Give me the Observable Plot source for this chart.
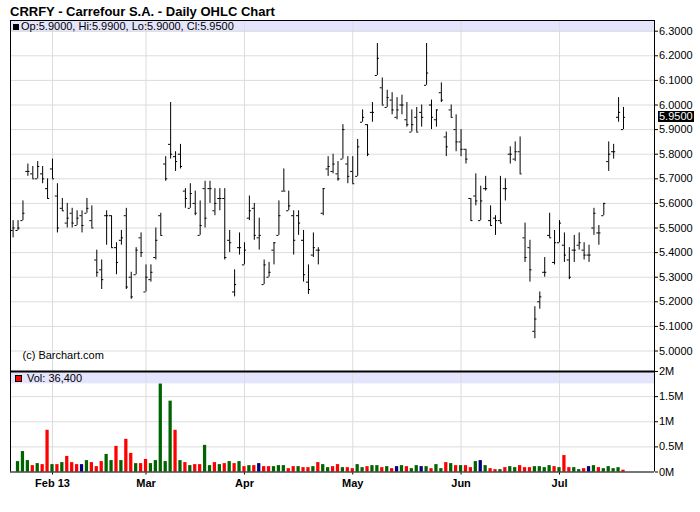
<!DOCTYPE html>
<html>
<head>
<meta charset="utf-8">
<script src="https://cdn.jsdelivr.net/npm/d3@7"></script>
<script src="https://cdn.jsdelivr.net/npm/@observablehq/plot@0.6"></script>
<style>
  body { margin: 0; background: #fff; }
  #wrap { position: relative; width: 700px; height: 512px; overflow: hidden; background: #fff;
          font-family: "Liberation Sans", Arial, Helvetica, sans-serif; }
  #wrap svg { position: absolute; left: 0; }
  .title { position: absolute; left: 10px; top: 5px; font-weight: bold; font-size: 13px; line-height: 13px; color: #000; white-space: nowrap; }
  .hdr { position: absolute; font-size: 11px; line-height: 11px; color: #000; white-space: nowrap; z-index: 5; }
  .sq { display: inline-block; box-sizing: border-box; vertical-align: baseline; margin-right: 2px; }
  .last { position: absolute; left: 658px; background: #000; color: #fff; font-size: 11px; line-height: 11px; padding: 0 1px; z-index: 6; }
  #vol g[aria-label^="x-axis"] text { font-weight: bold; }
</style>
</head>
<body>
<div id="wrap">
  <div class="title">CRRFY - Carrefour S.A. - Daily OHLC Chart</div>
</div>
<script>
// ---- data (trading-day index 0 = Jan 22 2013 ... 124 = Jul 19 2013) ----
const open  = [5.49,5.49,5.53,5.73,5.72,5.70,5.72,5.66,5.74,5.63,5.58,5.52,5.56,5.51,5.55,5.56,5.53,5.37,5.33,5.55,
               5.55,5.42,5.45,5.55,5.30,5.31,5.46,5.24,5.29,5.38,5.55,5.76,5.84,5.79,5.80,5.65,5.58,5.60,5.47,5.66,
               5.66,5.57,5.62,5.62,5.45,5.24,5.42,5.35,5.54,5.58,5.46,5.27,5.30,5.41,5.47,5.65,5.57,5.55,5.55,5.45,
               5.28,5.39,5.41,5.56,5.74,5.73,5.72,5.78,5.76,5.73,5.71,5.93,5.92,5.97,6.12,6.07,5.99,6.02,5.95,6.00,
               5.94,5.89,5.95,5.97,6.08,6.00,5.94,6.05,5.87,5.98,5.90,5.85,5.82,5.62,5.63,5.53,5.66,5.53,5.54,5.53,
               5.66,5.80,5.78,5.81,5.46,5.42,5.08,5.20,5.32,5.47,5.36,5.44,5.43,5.37,5.41,5.43,5.41,5.39,5.50,5.48,
               5.55,5.77,5.81,5.95,5.90];
const high  = [5.53,5.53,5.61,5.76,5.75,5.77,5.75,5.70,5.78,5.68,5.62,5.60,5.58,5.57,5.57,5.62,5.59,5.41,5.37,5.57,
               5.55,5.44,5.49,5.58,5.32,5.42,5.48,5.35,5.35,5.50,5.56,5.79,6.01,5.81,5.84,5.66,5.68,5.65,5.61,5.69,
               5.69,5.66,5.66,5.66,5.49,5.33,5.48,5.44,5.63,5.60,5.54,5.37,5.36,5.44,5.61,5.74,5.65,5.57,5.57,5.49,
               5.35,5.48,5.42,5.66,5.79,5.80,5.77,5.92,5.79,5.79,5.86,5.98,5.92,6.01,6.25,6.11,6.06,6.05,6.03,6.04,
               6.01,5.98,5.99,6.00,6.25,6.02,5.98,6.09,5.89,6.00,5.96,5.90,5.82,5.62,5.72,5.67,5.71,5.59,5.55,5.71,
               5.70,5.83,5.85,5.87,5.52,5.45,5.18,5.24,5.38,5.56,5.49,5.53,5.48,5.42,5.47,5.48,5.44,5.43,5.58,5.51,
               5.60,5.85,5.84,6.03,5.99];
const low   = [5.46,5.49,5.53,5.71,5.70,5.70,5.68,5.62,5.70,5.48,5.57,5.50,5.50,5.51,5.48,5.56,5.50,5.30,5.25,5.43,
               5.42,5.31,5.43,5.25,5.21,5.31,5.38,5.24,5.28,5.37,5.47,5.69,5.78,5.73,5.74,5.58,5.58,5.55,5.47,5.50,
               5.60,5.55,5.57,5.37,5.40,5.22,5.39,5.35,5.53,5.45,5.41,5.27,5.30,5.35,5.47,5.65,5.57,5.39,5.47,5.28,
               5.23,5.38,5.35,5.55,5.71,5.72,5.69,5.78,5.68,5.68,5.71,5.93,5.79,5.93,6.12,6.00,5.99,5.96,5.94,5.96,
               5.91,5.89,5.89,5.91,6.08,5.90,5.91,6.01,5.79,5.95,5.81,5.79,5.76,5.53,5.59,5.53,5.65,5.51,5.47,5.52,
               5.61,5.76,5.77,5.72,5.36,5.28,5.05,5.17,5.30,5.46,5.35,5.44,5.36,5.29,5.36,5.41,5.37,5.36,5.47,5.43,
               5.55,5.73,5.78,5.93,5.90];
const close = [5.50,5.50,5.56,5.73,5.70,5.75,5.70,5.62,5.70,5.50,5.57,5.54,5.52,5.54,5.51,5.58,5.50,5.32,5.29,5.55,
               5.42,5.36,5.46,5.26,5.22,5.41,5.40,5.30,5.32,5.45,5.47,5.70,5.80,5.77,5.75,5.62,5.64,5.56,5.51,5.54,
               5.66,5.60,5.62,5.38,5.44,5.27,5.42,5.41,5.57,5.47,5.47,5.35,5.32,5.44,5.55,5.65,5.59,5.45,5.52,5.31,
               5.25,5.42,5.41,5.66,5.75,5.76,5.70,5.90,5.71,5.68,5.83,5.95,5.80,5.97,6.19,6.00,6.03,5.98,5.98,6.00,
               5.92,5.92,5.89,5.95,6.13,5.95,5.98,6.02,5.83,5.95,5.85,5.82,5.78,5.53,5.61,5.61,5.66,5.51,5.53,5.52,
               5.66,5.80,5.81,5.72,5.38,5.33,5.13,5.22,5.32,5.46,5.44,5.52,5.39,5.30,5.41,5.44,5.39,5.39,5.56,5.48,
               5.60,5.80,5.81,5.97,5.95];
// volume in millions of shares (first day has no volume bar)
const volume = [null,0.207,0.407,0.227,0.127,0.167,0.147,0.83,0.147,0.147,0.187,0.31,0.187,0.147,0.147,0.227,0.187,0.107,0.207,0.35,
                0.227,0.51,0.227,0.65,0.37,0.167,0.167,0.25,0.167,0.227,1.75,0.207,1.41,0.83,0.227,0.187,0.127,0.147,0.147,0.53,
                0.127,0.187,0.147,0.167,0.207,0.167,0.207,0.107,0.127,0.127,0.167,0.107,0.107,0.107,0.127,0.127,0.067,0.107,0.107,0.087,
                0.087,0.107,0.187,0.147,0.087,0.107,0.147,0.087,0.087,0.067,0.147,0.087,0.107,0.127,0.127,0.087,0.107,0.067,0.107,0.127,
                0.107,0.067,0.127,0.107,0.107,0.067,0.147,0.067,0.187,0.167,0.127,0.127,0.127,0.087,0.207,0.227,0.127,0.067,0.047,0.047,
                0.087,0.107,0.087,0.127,0.087,0.087,0.107,0.107,0.087,0.127,0.107,0.087,0.327,0.087,0.087,0.047,0.067,0.107,0.127,0.087,
                0.067,0.107,0.067,0.087,0.0364];
// volume bar colour class: u = up (green), d = down (red), n = unchanged (navy)
const volDir = ["","u","u","u","d","u","d","d","u","d","u","d","d","d","n","u","d","d","d","u",
                "u","d","u","d","d","u","d","d","u","u","u","u","u","d","u","d","u","d","d","u",
                "u","d","u","d","u","d","u","d","u","d","n","d","d","u","u","u","d","d","u","d",
                "d","u","d","u","u","d","d","u","d","d","u","u","d","u","u","d","u","d","n","u",
                "d","u","u","n","u","d","u","u","d","u","d","u","d","d","u","n","u","d","d","u",
                "d","u","u","d","d","d","u","u","u","u","d","u","d","d","u","u","d","n","u","d",
                "u","u","u","u","d"];
const monthTickIdx = [8, 27, 47, 69, 91, 111];
const monthLabels  = ["Feb 13", "Mar", "Apr", "May", "Jun", "Jul"];
const priceTicks = [5.0,5.1,5.2,5.3,5.4,5.5,5.6,5.7,5.8,5.9,6.0,6.1,6.2,6.3];
const volTicks = [0, 0.5, 1, 1.5, 2];
const volTickLabels = ["0M", "0.5M", "1M", "1.5M", "2M"];

// ---- build ----
const bars = open.map((o, i) => ({i, o, h: high[i], l: low[i], c: close[i], v: volume[i], d: volDir[i]}));
const last = bars[bars.length - 1];

const FONT = '"Liberation Sans", Arial, Helvetica, sans-serif';
const X_DOMAIN = [-0.53, 130.3];
const P_DOMAIN = [4.9167, 6.3435];
const GRID = "#dcdcdc";
const BAND = "#e4e4fc";

const pricePlot = Plot.plot({
  width: 700, height: 373,
  marginTop: 20, marginBottom: 2, marginLeft: 10, marginRight: 46,
  style: {background: "none", fontFamily: FONT, fontSize: "11px", color: "#000"},
  x: {domain: X_DOMAIN, axis: null},
  y: {domain: P_DOMAIN, axis: "right", ticks: priceTicks, tickFormat: d => d.toFixed(4),
      tickSize: 3, tickPadding: 1.5, label: null},
  marks: [
    Plot.rect([0], {x1: X_DOMAIN[0], x2: X_DOMAIN[1], y1: 6.2947, y2: P_DOMAIN[1], fill: BAND}),
    Plot.ruleY(priceTicks, {stroke: GRID}),
    Plot.ruleX(monthTickIdx, {stroke: GRID}),
    Plot.ruleX(bars, {x: "i", y1: "l", y2: "h", stroke: "#000"}),
    Plot.ruleY(bars, {y: "o", x1: d => d.i - 0.42, x2: "i", stroke: "#000"}),
    Plot.ruleY(bars, {y: "c", x1: "i", x2: d => d.i + 0.42, stroke: "#000"}),
    Plot.ruleX(X_DOMAIN, {stroke: "#000"}),
    Plot.ruleY([P_DOMAIN[1]], {stroke: "#000"}),
    Plot.ruleY([P_DOMAIN[0]], {stroke: "#000", strokeWidth: 2}),
    Plot.text(["(c) Barchart.com"], {text: d => d, frameAnchor: "bottom-left", textAnchor: "start",
      dx: 12, dy: -13, fill: "#000", fontSize: 11})
  ]
});
pricePlot.style.top = "0px";

const volPlot = Plot.plot({
  width: 700, height: 151,
  marginTop: 10, marginBottom: 40.5, marginLeft: 10, marginRight: 46,
  style: {background: "none", fontFamily: FONT, fontSize: "11px", color: "#000"},
  x: {domain: X_DOMAIN, ticks: monthTickIdx, tickFormat: d => monthLabels[monthTickIdx.indexOf(d)],
      tickSize: 3, tickPadding: 4, label: null},
  y: {domain: [0, 2], axis: "right", ticks: volTicks, tickFormat: d => volTickLabels[volTicks.indexOf(d)],
      tickSize: 3, tickPadding: 1.5, label: null},
  color: {domain: ["u", "d", "n"], range: ["#006400", "#ff0000", "#000080"]},
  marks: [
    Plot.rect([0], {x1: X_DOMAIN[0], x2: X_DOMAIN[1], y1: 1.754, y2: 1.98, fill: BAND}),
    Plot.ruleY(volTicks.slice(0, -1), {stroke: GRID}),
    Plot.ruleX(monthTickIdx, {stroke: GRID}),
    Plot.rectY(bars.filter(d => d.v != null), {x1: d => d.i - 0.33, x2: d => d.i + 0.33, y: "v", fill: "d"}),
    Plot.ruleX(X_DOMAIN, {stroke: "#000"}),
    Plot.ruleY([0], {stroke: "#000"})
  ]
});
volPlot.id = "vol";
volPlot.style.top = "361px";

const wrap = document.getElementById("wrap");
wrap.appendChild(volPlot);
wrap.appendChild(pricePlot);

// header overlays
const fmt4 = v => v.toFixed(4);
const h1 = document.createElement("div");
h1.className = "hdr";
h1.style.left = "13px"; h1.style.top = "21px";
h1.innerHTML = '<span class="sq" style="width:6px;height:6px;background:#000"></span>' +
  `Op:${fmt4(last.o)}, Hi:${fmt4(last.h)}, Lo:${fmt4(last.l)}, Cl:${fmt4(last.c)}`;
wrap.appendChild(h1);

const h2 = document.createElement("div");
h2.className = "hdr";
h2.style.left = "15px"; h2.style.top = "373px";
h2.innerHTML = '<span class="sq" style="width:7px;height:7px;background:#ff0000;border:1px solid #000;margin-right:5px"></span>' +
  "Vol: " + d3.format(",")(Math.round(last.v * 1e6));
wrap.appendChild(h2);

// last price marker on the right axis, positioned by the plot's own y scale
let yLast;
try { yLast = pricePlot.scale("y").apply(last.c); } catch (e) { yLast = null; }
if (yLast == null || isNaN(yLast)) yLast = 20 + (P_DOMAIN[1] - last.c) / (P_DOMAIN[1] - P_DOMAIN[0]) * 351;
const lp = document.createElement("div");
lp.className = "last";
lp.style.top = (yLast - 5.5) + "px";
lp.textContent = fmt4(last.c);
wrap.appendChild(lp);
</script>
</body>
</html>
